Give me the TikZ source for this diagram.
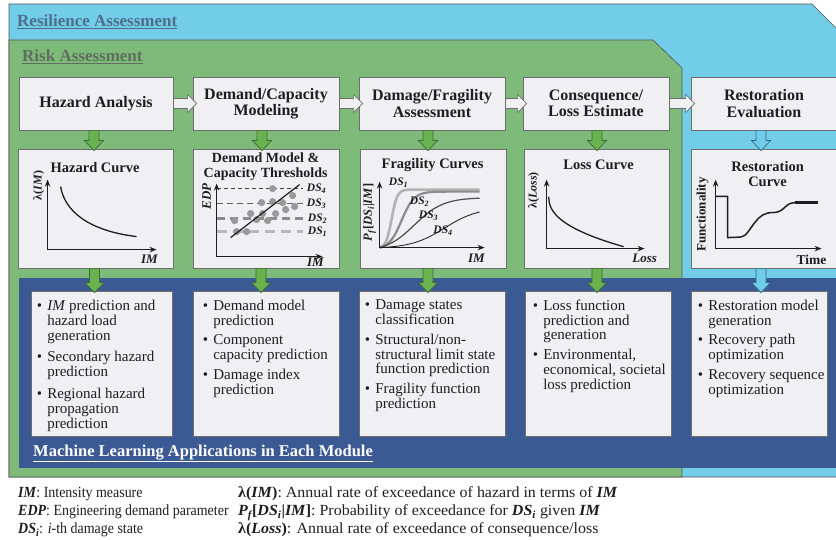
\documentclass[tikz,border=0pt]{standalone}
\usepackage{fontspec}
\setmainfont{Liberation Serif}
\newfontfamily\legfont[FakeStretch=0.9]{Liberation Serif}
\newfontfamily\legwidefont[FakeStretch=1.03]{Liberation Serif}
\usetikzlibrary{arrows.meta,calc}

\definecolor{resblue}{HTML}{72CDE8}
\definecolor{riskgreen}{HTML}{7EBB7B}
\definecolor{mlblue}{HTML}{3B5A93}
\definecolor{boxfill}{HTML}{F0F0F2}
\definecolor{boxline}{HTML}{6E6E6E}
\definecolor{arrgreen}{HTML}{6AB150}
\definecolor{arrgreenline}{HTML}{3D6B3A}
\definecolor{arrblue}{HTML}{70CCE8}
\definecolor{arrblueline}{HTML}{2E6A88}
\definecolor{restitle}{HTML}{4D6F8C}
\definecolor{risktitle}{HTML}{5F6E5E}
\definecolor{regionline}{HTML}{555555}
\definecolor{txt}{HTML}{1E1E1E}

% bold italic shorthand, bullet and hanging indent for the lists
\newcommand\mybi[1]{\textbf{\textit{#1}}}
\newcommand\bl{\makebox[10.5pt][l]{\textbullet}}
\newcommand\ind{\hspace*{10.5pt}}

% downward block arrow from one box to the next (#4 = x offset)
\newcommand\vblock[4]{%
  \draw[#1] let \p1=($(#2.south)+(#4,0)$), \p2=(#3.north) in
    ({\x1-5pt},\y1) -- ({\x1+5pt},\y1) -- ({\x1+5pt},{\y2+8pt}) -- ({\x1+9.5pt},{\y2+8pt})
    -- (\x1,{\y2-2pt}) -- ({\x1-9.5pt},{\y2+8pt}) -- ({\x1-5pt},{\y2+8pt}) -- cycle;}
% rightward block arrow between two boxes
\newcommand\hblock[3]{%
  \draw[#1] let \p1=(#2.east), \p2=(#3.west) in
    (\x1,{\y1+5pt}) -- ({\x2-5pt},{\y1+5pt}) -- ({\x2-5pt},{\y1+9pt}) -- ({\x2+4pt},\y1)
    -- ({\x2-5pt},{\y1-9pt}) -- ({\x2-5pt},{\y1-5pt}) -- (\x1,{\y1-5pt}) -- cycle;}

\tikzset{
  modbox/.style={draw=boxline, fill=boxfill, line width=0.8pt, minimum height=53pt,
    inner sep=0pt, align=center, text=txt, font=\fontsize{16}{16.5}\selectfont\bfseries},
  chartbox/.style={draw=boxline, fill=boxfill, line width=0.8pt, minimum height=119pt, inner sep=0pt},
  mlbox/.style={draw=boxline, fill=boxfill, line width=0.8pt, minimum height=145pt, inner sep=0pt},
  mltext/.style={anchor=north west, inner sep=0pt, align=left, text=txt,
    font=\fontsize{15}{14.8}\selectfont},
  ctitle/.style={inner sep=0pt, align=center, text=txt, font=\fontsize{14.5}{15.5}\selectfont\bfseries},
  axlabel/.style={inner sep=0pt, text=txt, font=\fontsize{13}{13}\selectfont\bfseries},
  ylabel/.style={inner sep=0pt, text=txt, rotate=90, font=\fontsize{12}{12}\selectfont\bfseries},
  dslabel/.style={inner sep=0pt, text=txt, font=\fontsize{11.5}{11.5}\selectfont\bfseries\itshape},
  axis/.style={draw=txt, line width=1.3pt, line join=miter,
    {Stealth[length=7pt,width=5.5pt]}-{Stealth[length=7pt,width=5.5pt]}},
  curve/.style={draw=txt, line width=1.3pt},
  garrow/.style={fill=arrgreen, draw=arrgreenline, line width=0.7pt},
  barrow/.style={fill=arrblue, draw=arrblueline, line width=0.7pt},
  harrow/.style={fill=boxfill, draw=boxline, line width=0.7pt},
  regtitle/.style={anchor=base west, inner sep=0pt, font=\fontsize{17}{17}\selectfont\bfseries},
  legtext/.style={anchor=base west, inner sep=0pt, text=txt, font=\legfont\fontsize{15.5}{15.5}\selectfont},
  legwide/.style={legtext, font=\legwidefont\fontsize{15.5}{15.5}\selectfont},
  dot/.style={fill=black!40},
}

\begin{document}
\begin{tikzpicture}[x=1pt, y=-1pt]
\useasboundingbox (0,0) rectangle (836,540);
\clip (0,0) rectangle (836,540);

% nested assessment regions
\draw[fill=resblue, draw=regionline, line width=0.6pt]
  (9,4) -- (812,4) -- (840,32) -- (840,477) -- (9,477) -- cycle;
\draw[fill=riskgreen, draw=regionline, line width=0.6pt]
  (9,40) -- (653,40) -- (682,68) -- (682,477) -- (9,477) -- cycle;
\fill[mlblue] (19,278) rectangle (840,468);

\node[regtitle, text=restitle] (rtitle) at (17,27) {\underline{Resilience Assessment}};
\node[regtitle, text=risktitle] (ktitle) at (22,62) {\underline{Risk Assessment}};
\node[regtitle, text=white, font=\fontsize{16.5}{16.5}\selectfont\bfseries] (mltitle) at (33,456)
  {\underline{Machine Learning Applications in Each Module}};

% module boxes
\node[modbox, minimum width=154pt] (hz) at (96,103.5) {Hazard Analysis};
\node[modbox, minimum width=146pt] (dc) at (266,103.5) {Demand/Capacity\\Modeling};
\node[modbox, minimum width=146pt] (df) at (432,103.5) {Damage/Fragility\\Assessment};
\node[modbox, minimum width=146pt] (cl) at (596,103.5) {Consequence/\\Loss Estimate};
\node[modbox, minimum width=146pt] (re) at (764,103.5) {Restoration\\Evaluation};

% chart boxes
\node[chartbox, minimum width=155pt] (hzc) at (95.5,208.5) {};
\node[chartbox, minimum width=146pt] (dcc) at (266,208.5) {};
\node[chartbox, minimum width=146pt] (dfc) at (433,208.5) {};
\node[chartbox, minimum width=145pt] (clc) at (596.5,208.5) {};
\node[chartbox, minimum width=146pt] (rec) at (764,208.5) {};

% machine learning boxes
\node[mlbox, minimum width=141pt] (hzm) at (101.5,363.5) {};
\node[mlbox, minimum width=146pt] (dcm) at (266,363.5) {};
\node[mlbox, minimum width=146pt] (dfm) at (432,363.5) {};
\node[mlbox, minimum width=146pt] (clm) at (598,363.5) {};
\node[mlbox, minimum width=136pt] (rem) at (759,363.5) {};

\node[mltext, font=\fontsize{15}{15}\selectfont] (hzt) at ([xshift=6pt,yshift=-9pt]hzm.north west)
  {\bl\textit{IM} prediction and\\\ind hazard load\\\ind generation\\[6.5pt]
   \bl Secondary hazard\\\ind prediction\\[6.5pt]
   \bl Regional hazard\\\ind propagation\\\ind prediction};
\node[mltext] (dct) at ([xshift=10pt,yshift=-9pt]dcm.north west)
  {\bl Demand model\\\ind prediction\\[5pt]
   \bl Component\\\ind capacity prediction\\[5pt]
   \bl Damage index\\\ind prediction};
\node[mltext] (dft) at ([xshift=6pt,yshift=-9pt]dfm.north west)
  {\bl Damage states\\\ind classification\\[5pt]
   \bl Structural/non-\\\ind structural limit state\\\ind function prediction\\[5pt]
   \bl Fragility function\\\ind prediction};
\node[mltext] (clt) at ([xshift=8pt,yshift=-9pt]clm.north west)
  {\bl Loss function\\\ind prediction and\\\ind generation\\[5pt]
   \bl Environmental,\\\ind economical, societal\\\ind loss prediction};
\node[mltext] (ret) at ([xshift=7pt,yshift=-9pt]rem.north west)
  {\bl Restoration model\\\ind generation\\[5pt]
   \bl Recovery path\\\ind optimization\\[5pt]
   \bl Recovery sequence\\\ind optimization};

% hazard curve
\begin{scope}[shift={(hzc.north west)}]
  \node[ctitle] (hzct) at (77.5,19) {Hazard Curve};
  \draw[axis] (30,31) -- (30,101) -- (139,101);
  \node[ylabel] (hzcy) at (21,37) {λ(\textit{IM})};
  \node[axlabel] (hzcx) at (132,110.5) {\textit{IM}};
  \draw[curve] (43,38) .. controls (47,62) and (70,82) .. (119,88);
\end{scope}

% demand model and capacity thresholds
\begin{scope}[shift={(dcc.north west)}]
  \node[ctitle, font=\fontsize{14}{15}\selectfont\bfseries] (dcct) at (73,18.5) {Demand Model \&\\Capacity Thresholds};
  \draw[black!75, line width=1pt, dash pattern=on 4pt off 3pt] (24,40) -- (110,40);
  \draw[black!62, line width=1.5pt, dash pattern=on 6pt off 4pt] (24,55) -- (110,55);
  \draw[black!45, line width=2.2pt, dash pattern=on 8pt off 5pt] (24,70) -- (110,70);
  \draw[black!28, line width=3pt, dash pattern=on 10pt off 6pt] (24,83) -- (110,83);
  \foreach \px/\py in {42/72, 44/83, 54/83, 58/65, 64/71, 69/54, 70/65, 75/72, 80/40,
                       80/53, 83/65, 90/54, 93/61, 100/47, 102/58}
    \fill[dot] (\px,\py) circle (3.6pt);
  \draw[axis] (24,35) -- (24,108) -- (130,108);
  \draw[curve, line width=1.2pt] (38,89) -- (107,36);
  \node[ylabel, font=\fontsize{13}{13}\selectfont\bfseries\itshape] (dccy) at (14,48) {EDP};
  \node[axlabel] (dccx) at (123,113.5) {\textit{IM}};
  \node[dslabel] (dcc4) at (124,40) {DS\textsubscript{4}};
  \node[dslabel] (dcc3) at (124,55) {DS\textsubscript{3}};
  \node[dslabel] (dcc2) at (125,70) {DS\textsubscript{2}};
  \node[dslabel] (dcc1) at (125,83) {DS\textsubscript{1}};
\end{scope}

% fragility curves
\begin{scope}[shift={(dfc.north west)}]
  \node[ctitle] (dfct) at (73,16) {Fragility Curves};
  \draw[black!30, line width=2.6pt] plot[domain=0:100, samples=80, smooth]
    (\x+20, {99-58*(1/(1+exp(-0.35*(\x-12)))-0.01478)/0.98522});
  \draw[black!45, line width=2.2pt] plot[domain=0:100, samples=80, smooth]
    (\x+20, {99-56*(1/(1+exp(-0.16*(\x-22)))-0.0287)/0.9713});
  \draw[black!70, line width=1.2pt] plot[domain=0:100, samples=80, smooth]
    (\x+20, {99-50*(1/(1+exp(-0.07*(\x-35)))-0.0794)/0.9206});
  \draw[black!85, line width=0.9pt] plot[domain=0:100, samples=80, smooth]
    (\x+20, {99-40*(1/(1+exp(-0.06*(\x-65)))-0.0198)/0.9802});
  \draw[axis] (20,33) -- (20,99) -- (125,99);
  \node[ylabel, font=\fontsize{12.5}{12.5}\selectfont\bfseries] (dfcy) at (10,64)
    {\textit{P}\textsubscript{\textit{f}}[\textit{DS}\textsubscript{\textit{i}}|\textit{IM}]};
  \node[axlabel] (dfcx) at (117,110) {\textit{IM}};
  \node[dslabel] (dfc1) at (39,34) {DS\textsubscript{1}};
  \node[dslabel] (dfc2) at (60,53) {DS\textsubscript{2}};
  \node[dslabel] (dfc3) at (69,67) {DS\textsubscript{3}};
  \node[dslabel] (dfc4) at (83.5,82) {DS\textsubscript{4}};
\end{scope}

% loss curve
\begin{scope}[shift={(clc.north west)}]
  \node[ctitle] (clct) at (75,16) {Loss Curve};
  \draw[axis] (23,31) -- (23,100) -- (121,100);
  \draw[curve] plot[domain=0.01:75, samples=80, smooth] (\x+25, {47+8.33*(\x)^0.42});
  \node[ylabel] (clcy) at (10,42) {λ(\textit{Loss})};
  \node[axlabel] (clcx) at (121,110) {\textit{Loss}};
\end{scope}

% restoration curve
\begin{scope}[shift={(rec.north west)}]
  \node[ctitle] (rect) at (77,25.5) {Restoration\\Curve};
  \draw[axis] (25,31) -- (25,100) -- (131,100);
  \draw[curve, line width=1.5pt, line join=round] (25,47.7) -- (37,47.7) -- (37,89) -- (50,88.5)
    .. controls (56,88) and (59,80) .. (65,73) .. controls (70,67) and (74,64) .. (82,64)
    .. controls (88,64) and (91,62) .. (95,58) .. controls (98,55) and (101,54) .. (106,54);
  \draw[draw=txt, line width=2.8pt] (104,54) -- (127,54);
  \node[ylabel, font=\fontsize{13}{13}\selectfont\bfseries] (recy) at (12,66) {Functionality};
  \node[axlabel, font=\fontsize{13.5}{13.5}\selectfont\bfseries] (recx) at (121,111) {Time};
\end{scope}

% flow between modules
\hblock{harrow}{hz}{dc}
\hblock{harrow}{dc}{df}
\hblock{harrow}{df}{cl}
\hblock{harrow}{cl}{re}

\vblock{garrow}{hz}{hzc}{-2}
\vblock{garrow}{dc}{dcc}{-4}
\vblock{garrow}{df}{dfc}{-4}
\vblock{garrow}{cl}{clc}{1}
\vblock{barrow}{re}{rec}{-3}

\vblock{garrow}{hzc}{hzm}{-1}
\vblock{garrow}{dcc}{dcm}{-5}
\vblock{garrow}{dfc}{dfm}{-5}
\vblock{garrow}{clc}{clm}{0.5}
\vblock{barrow}{rec}{rem}{-3}

% notation
\node[legtext] (lg1) at (18,497) {\mybi{IM}: Intensity measure};
\node[legtext] (lg2) at (18,515.5) {\mybi{EDP}: Engineering demand parameter};
\node[legtext] (lg3) at (18,533.5) {\mybi{DS\textsubscript{i}}: \textit{i}-th damage state};
\node[legwide] (lg4) at (238,497) {\textbf{λ(\textit{IM})}: Annual rate of exceedance of hazard in terms of \mybi{IM}};
\node[legwide] (lg5) at (238,515.5) {\mybi{P\textsubscript{f}}\textbf{[\textit{DS}\textsubscript{\textit{i}}|\textit{IM}]}: Probability of exceedance for \mybi{DS\textsubscript{i}} given \mybi{IM}};
\node[legwide] (lg6) at (238,533.5) {\textbf{λ(\textit{Loss})}: Annual rate of exceedance of consequence/loss};
\end{tikzpicture}
\end{document}
